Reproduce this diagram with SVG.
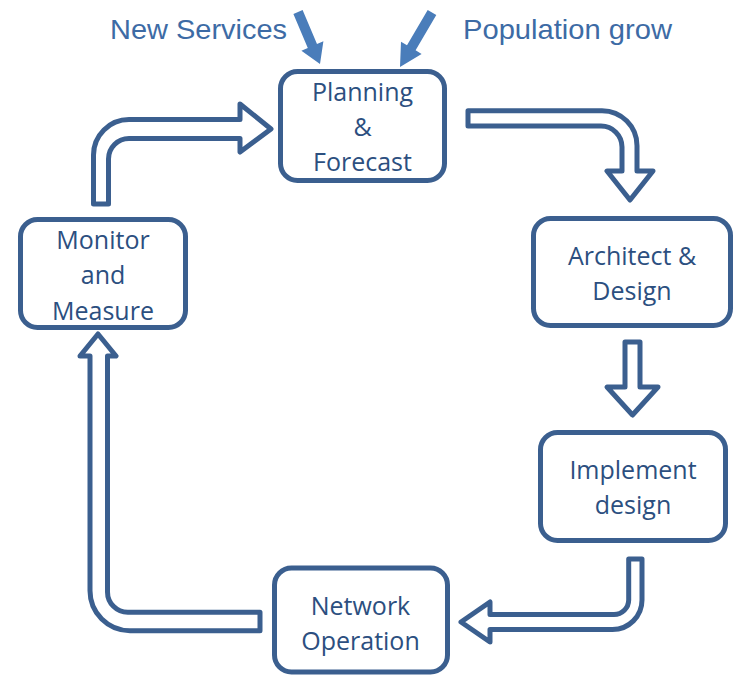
<svg xmlns="http://www.w3.org/2000/svg" width="734" height="676" viewBox="0 0 734 676">
  <style>
    .box { fill: #ffffff; stroke: #3b5f8f; stroke-width: 5; }
    .flow { fill: #ffffff; stroke: #3b5f8f; stroke-width: 5; stroke-linejoin: round; }
    .lbl { font-family: "Open Sans", "Noto Sans", sans-serif; font-size: 25px; fill: #2c4f7f; text-anchor: middle; }
    .top { font-family: "Liberation Sans", Arial, sans-serif; font-size: 28px; fill: #3d6ba5; }
    .input { fill: #4a7dba; stroke: none; }
  </style>
  <rect width="734" height="676" fill="#ffffff"/>

  <g id="connectors">
    <path class="flow" d="M 260 612.3 L 260 630.7 L 130 630.7 A 40 40 0 0 1 90 590.7 L 90 356 L 80 356 L 98 334 L 116 356 L 107.5 356 L 107.5 592 A 20.3 20.3 0 0 0 127.8 612.3 Z"/>
    <path class="flow" d="M 108.5 204 L 93.5 204 L 93.5 155 A 35.5 35.5 0 0 1 129 119.5 L 240 119.5 L 240 104 L 271 129 L 240 152 L 240 138.5 L 129 138.5 A 20.5 20.5 0 0 0 108.5 159 Z"/>
    <path class="flow" d="M 468 110.7 L 602 110.7 A 35 35 0 0 1 637 146 L 637 171 L 653 171 L 630 200 L 607 171 L 622 171 L 622 147 A 21 21 0 0 0 601 126 L 468 126 Z"/>
    <path class="flow" d="M 625 342 L 640 342 L 640 387 L 658 387 L 632.5 415 L 607 387 L 625 387 Z"/>
    <path class="flow" d="M 628.7 559 L 642 559 L 642 600 A 29.5 29.5 0 0 1 612.5 629.5 L 490 629.5 L 490 642 L 461 622 L 490 602 L 490 614.5 L 614 614.5 A 14.7 14.7 0 0 0 628.7 600 Z"/>
    <polygon class="input" points="293.4,14 302.6,10 317,44 323.4,41.3 320,64 301.4,50.7 307.8,48"/>
    <polygon class="input" points="427.7,10 436.3,15 415.6,50.3 421.6,53.9 400,67 401,41.7 407,45.3"/>
  </g>

  <g id="inputs">
    <text class="top" x="110" y="39" textLength="177" lengthAdjust="spacingAndGlyphs">New Services</text>
    <text class="top" x="463" y="39" textLength="209" lengthAdjust="spacingAndGlyphs">Population grow</text>
  </g>

  <g id="planning">
    <rect class="box" x="280.5" y="71.5" width="164" height="109" rx="17"/>
    <text class="lbl" x="362.5" y="100.5">Planning</text>
    <text class="lbl" x="362.5" y="136">&amp;</text>
    <text class="lbl" x="362.5" y="171">Forecast</text>
  </g>

  <g id="architect">
    <rect class="box" x="533.5" y="218.5" width="197" height="107" rx="17"/>
    <text class="lbl" x="632" y="265">Architect &amp;</text>
    <text class="lbl" x="632" y="299.5">Design</text>
  </g>

  <g id="implement">
    <rect class="box" x="540.5" y="432.5" width="185" height="108" rx="17"/>
    <text class="lbl" x="633" y="479">Implement</text>
    <text class="lbl" x="633" y="514">design</text>
  </g>

  <g id="network">
    <rect class="box" x="274.5" y="568" width="173" height="104" rx="17"/>
    <text class="lbl" x="360.5" y="615">Network</text>
    <text class="lbl" x="360.5" y="649.5">Operation</text>
  </g>

  <g id="monitor">
    <rect class="box" x="20.5" y="219.5" width="165" height="108" rx="17"/>
    <text class="lbl" x="103" y="249">Monitor</text>
    <text class="lbl" x="103" y="284">and</text>
    <text class="lbl" x="103" y="319.5">Measure</text>
  </g>
</svg>
